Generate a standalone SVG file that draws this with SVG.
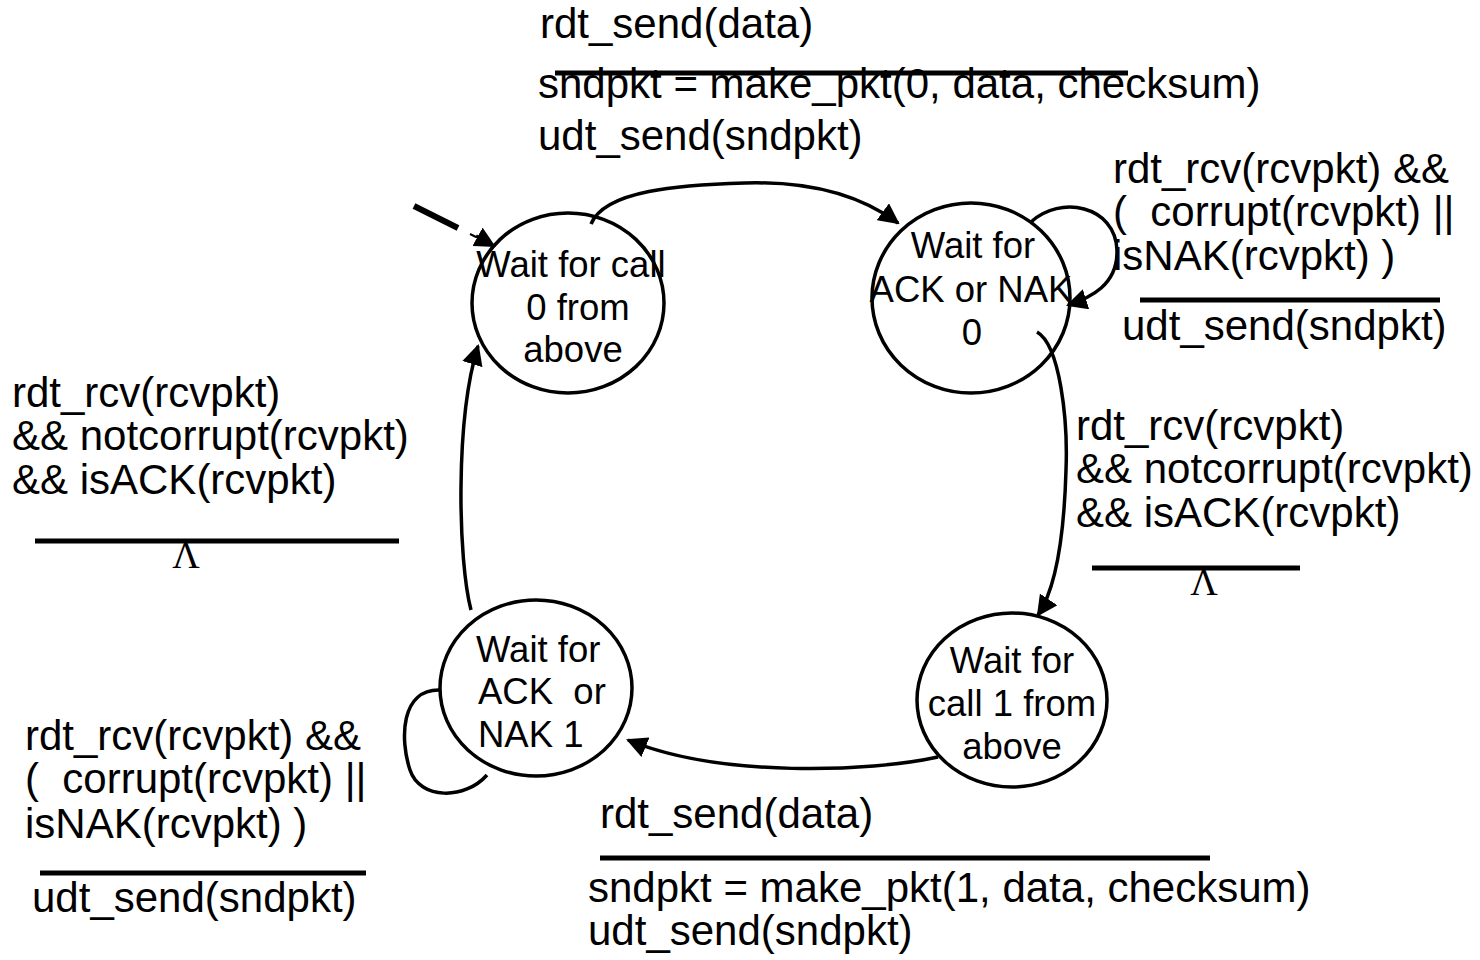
<svg xmlns="http://www.w3.org/2000/svg" width="1480" height="960" viewBox="0 0 1480 960">
<defs>
<style>
text{font-family:"Liberation Sans",Arial,sans-serif;font-size:42px;fill:#000}
.n{font-size:36.5px}
.c{text-anchor:middle}
.lam{font-family:"Liberation Serif","Times New Roman",serif;font-size:38px;text-anchor:middle}
.st{fill:none;stroke:#000;stroke-width:3.5}
.e{fill:none;stroke:#000;stroke-width:3.5}
.bar{stroke:#000;stroke-width:5}
</style>
<marker id="ah" viewBox="0 0 10 10" refX="9" refY="5" markerWidth="6" markerHeight="6" orient="auto" markerUnits="strokeWidth">
<path d="M0,0 L10,5 L0,10 z" fill="#000"/>
</marker>
</defs>
<rect width="1480" height="960" fill="#fff"/>

<g id="connectors">
<line x1="414" y1="206" x2="458" y2="228" stroke="#000" stroke-width="6"/>
<line x1="470" y1="234" x2="476" y2="237" stroke="#000" stroke-width="2"/>
<path d="M476,236 L494,246" class="e" marker-end="url(#ah)"/>
<path d="M591,224 C605,190 680,185 745,183 C810,181 860,195 898,223" class="e" marker-end="url(#ah)"/>
<path d="M1031,222 C1060,195 1115,205 1117,250 C1118,285 1090,298 1068,305" class="e" marker-end="url(#ah)"/>
<path d="M1037,332 C1060,345 1068,420 1066,470 C1064,540 1055,590 1038,615" class="e" marker-end="url(#ah)"/>
<path d="M938,757 C870,772 720,778 628,740" class="e" marker-end="url(#ah)"/>
<path d="M441,690 C400,688 400,740 410,770 C420,800 465,800 487,775" class="e"/>
<path d="M471,610 C458,560 455,420 478,346" class="e" marker-end="url(#ah)"/>
</g>

<g id="s0">
<ellipse cx="568" cy="303" rx="96" ry="90" class="st"/>
<text x="571" y="277" class="c n">Wait for call</text>
<text x="578" y="320" class="c n">0 from</text>
<text x="573" y="362" class="c n">above</text>
</g>
<g id="s1">
<ellipse cx="971" cy="298" rx="99" ry="95" class="st"/>
<text x="973" y="258" class="c n">Wait for</text>
<text x="971" y="302" class="c n">ACK or NAK</text>
<text x="972" y="345" class="c n">0</text>
</g>
<g id="s2">
<ellipse cx="536" cy="688" rx="96" ry="88" class="st"/>
<text x="476" y="662" class="n">Wait for</text>
<text x="478" y="704" class="n" xml:space="preserve">ACK  or</text>
<text x="478" y="747" class="n">NAK 1</text>
</g>
<g id="s3">
<ellipse cx="1012" cy="700" rx="95" ry="87" class="st"/>
<text x="1012" y="673" class="c n">Wait for</text>
<text x="1012" y="716" class="c n">call 1 from</text>
<text x="1012" y="759" class="c n">above</text>
</g>

<g id="label-top">
<text x="540" y="38">rdt_send(data)</text>
<line x1="555" y1="73" x2="1128" y2="73" class="bar"/>
<text x="538" y="98">sndpkt = make_pkt(0, data, checksum)</text>
<text x="538" y="150">udt_send(sndpkt)</text>
</g>
<g id="label-topright">
<text x="1113" y="183">rdt_rcv(rcvpkt) &amp;&amp;</text>
<text x="1113" y="226" xml:space="preserve">(  corrupt(rcvpkt) ||</text>
<text x="1113" y="270">isNAK(rcvpkt) )</text>
<line x1="1140" y1="300" x2="1440" y2="300" class="bar"/>
<text x="1122" y="340">udt_send(sndpkt)</text>
</g>
<g id="label-right">
<text x="1076" y="440">rdt_rcv(rcvpkt)</text>
<text x="1076" y="483">&amp;&amp; notcorrupt(rcvpkt)</text>
<text x="1076" y="527">&amp;&amp; isACK(rcvpkt)</text>
<line x1="1092" y1="568" x2="1300" y2="568" class="bar"/>
<text x="1204" y="595" class="lam">Λ</text>
</g>
<g id="label-left">
<text x="12" y="407">rdt_rcv(rcvpkt)</text>
<text x="12" y="450">&amp;&amp; notcorrupt(rcvpkt)</text>
<text x="12" y="494">&amp;&amp; isACK(rcvpkt)</text>
<line x1="35" y1="541" x2="399" y2="541" class="bar"/>
<text x="186" y="568" class="lam">Λ</text>
</g>
<g id="label-bottomleft">
<text x="25" y="750">rdt_rcv(rcvpkt) &amp;&amp;</text>
<text x="25" y="793" xml:space="preserve">(  corrupt(rcvpkt) ||</text>
<text x="25" y="838">isNAK(rcvpkt) )</text>
<line x1="40" y1="873" x2="366" y2="873" class="bar"/>
<text x="32" y="912">udt_send(sndpkt)</text>
</g>
<g id="label-bottom">
<text x="600" y="828">rdt_send(data)</text>
<line x1="600" y1="858" x2="1210" y2="858" class="bar"/>
<text x="588" y="902">sndpkt = make_pkt(1, data, checksum)</text>
<text x="588" y="945">udt_send(sndpkt)</text>
</g>
</svg>
